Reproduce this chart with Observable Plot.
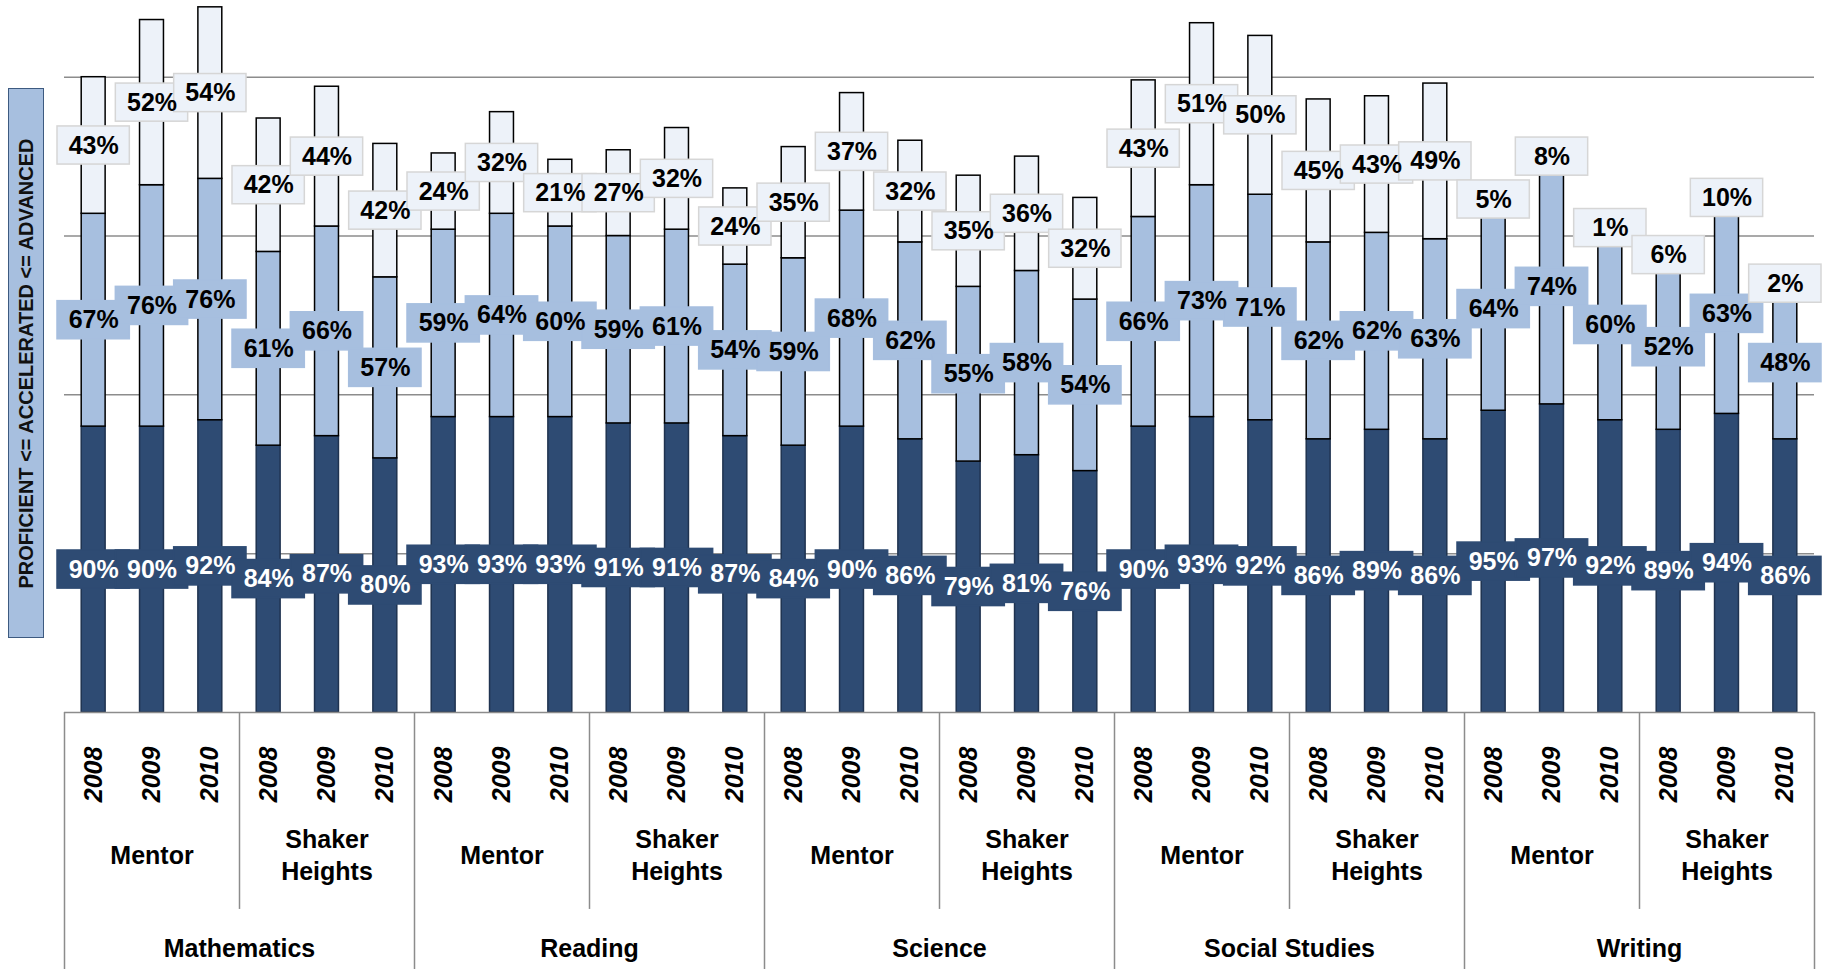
<!DOCTYPE html>
<html>
<head>
<meta charset="utf-8">
<script src="https://cdn.jsdelivr.net/npm/d3@7"></script>
<script src="https://cdn.jsdelivr.net/npm/@observablehq/plot@0.6"></script>
<style>
  body { margin: 0; background: #fff; font-family: Arial, "Liberation Sans", sans-serif; }
  #wrap { position: relative; width: 1837px; height: 969px; }
  #ytitle {
    position: absolute; left: 8px; top: 88px; width: 36px; height: 550px;
    background: #a7bfdf; border: 1.5px solid #3d5a80; box-sizing: border-box;
    display: flex; align-items: center; justify-content: center;
  }
  #ytitle span {
    transform: rotate(-90deg); white-space: nowrap;
    font: bold 20px Arial, "Liberation Sans", sans-serif; color: #111;
  }
</style>
</head>
<body>
<div id="wrap">
  <div id="ytitle"><span>PROFICIENT &lt;= ACCELERATED &lt;= ADVANCED</span></div>
  <div id="chart"></div>
</div>
<script>
// Percent of students at each level, one entry per subject/district/year bar
const subjects = ["Mathematics", "Reading", "Science", "Social Studies", "Writing"];
const districts = ["Mentor", "Shaker\nHeights"];
const years = ["2008", "2009", "2010"];

const proficient = [90, 90, 92, 84, 87, 80, 93, 93, 93, 91, 91, 87, 84, 90, 86, 79, 81, 76,
                    90, 93, 92, 86, 89, 86, 95, 97, 92, 89, 94, 86];
const accelerated = [67, 76, 76, 61, 66, 57, 59, 64, 60, 59, 61, 54, 59, 68, 62, 55, 58, 54,
                     66, 73, 71, 62, 62, 63, 64, 74, 60, 52, 63, 48];
const advanced = [43, 52, 54, 42, 44, 42, 24, 32, 21, 27, 32, 24, 35, 37, 32, 35, 36, 32,
                  43, 51, 50, 45, 43, 49, 5, 8, 1, 6, 10, 2];

const colors = {dark: "#2e4b73", mid: "#a7bfdf", light: "#edf2f9"};

// build rows
const bars = proficient.map((p, i) => ({
  i,
  year: years[i % 3],
  p, a: accelerated[i], d: advanced[i]
}));
const groups = d3.range(10).map(g => ({i: g * 3 + 1, name: districts[g % 2]}));
const subjRows = subjects.map((s, k) => ({i: k * 6 + 2.5, name: s}));

const hw = 0.205;   // half bar width in band units
const lw = 0.62;    // half label box width
const lh = 6;       // half label box height (y units)

const segs = [];
bars.forEach(b => {
  segs.push({i: b.i, y1: 0, y2: b.p, v: b.p, level: "dark"});
  segs.push({i: b.i, y1: b.p, y2: b.p + b.a, v: b.a, level: "mid"});
  segs.push({i: b.i, y1: b.p + b.a, y2: b.p + b.a + b.d, v: b.d, level: "light"});
});
segs.forEach(s => s.c = (s.y1 + s.y2) / 2);

const subjBounds = d3.range(0, 31, 6).map(v => v - 0.5);
const groupBounds = [3, 9, 15, 21, 27].map(v => v - 0.5);

const plot = Plot.plot({
  width: 1837,
  height: 969,
  marginLeft: 64,
  marginRight: 23,
  marginTop: 10,
  marginBottom: 257,
  x: {domain: [-0.5, 29.5], axis: null},
  y: {domain: [0, 221], axis: null},
  style: {fontFamily: "Arial, 'Liberation Sans', sans-serif"},
  marks: [
    Plot.ruleY([50, 100, 150, 200], {stroke: "#8c8c8c", strokeWidth: 1.5}),
    Plot.rectY(segs, {
      x1: d => d.i - hw, x2: d => d.i + hw, y1: "y1", y2: "y2",
      fill: d => colors[d.level],
      stroke: d => d.level === "dark" ? "#1f3350" : "#000",
      strokeWidth: 1.5
    }),
    // label boxes
    Plot.rect(segs, {
      x1: d => d.i - lw, x2: d => d.i + lw, y1: d => d.c - lh, y2: d => d.c + lh,
      fill: d => colors[d.level],
      stroke: d => d.level === "light" ? "#d6d6d6" : colors[d.level],
      strokeWidth: 1.5
    }),
    Plot.text(segs, {
      x: "i", y: "c", text: d => d.v + "%",
      fill: d => d.level === "dark" ? "#fff" : "#000",
      fontSize: 25, fontWeight: "bold"
    }),
    // category table below the bars
    Plot.ruleY([0], {stroke: "#8c8c8c", strokeWidth: 1.5}),
    Plot.ruleX(subjBounds, {y1: 0, y2: -81, stroke: "#8c8c8c", strokeWidth: 1.5}),
    Plot.ruleX(groupBounds, {y1: 0, y2: -62, stroke: "#8c8c8c", strokeWidth: 1.5}),
    Plot.text(bars, {
      x: "i", y: -19.5, text: "year", rotate: -90,
      fontSize: 25, fontWeight: "bold", fontStyle: "italic", fill: "#000"
    }),
    Plot.text(groups, {
      x: "i", y: -44.5, text: "name", lineHeight: 1.3,
      fontSize: 25, fontWeight: "bold", fill: "#000"
    }),
    Plot.text(subjRows, {
      x: "i", y: -74.5, text: "name",
      fontSize: 25, fontWeight: "bold", fill: "#000"
    })
  ]
});

document.getElementById("chart").appendChild(plot);
</script>
</body>
</html>
